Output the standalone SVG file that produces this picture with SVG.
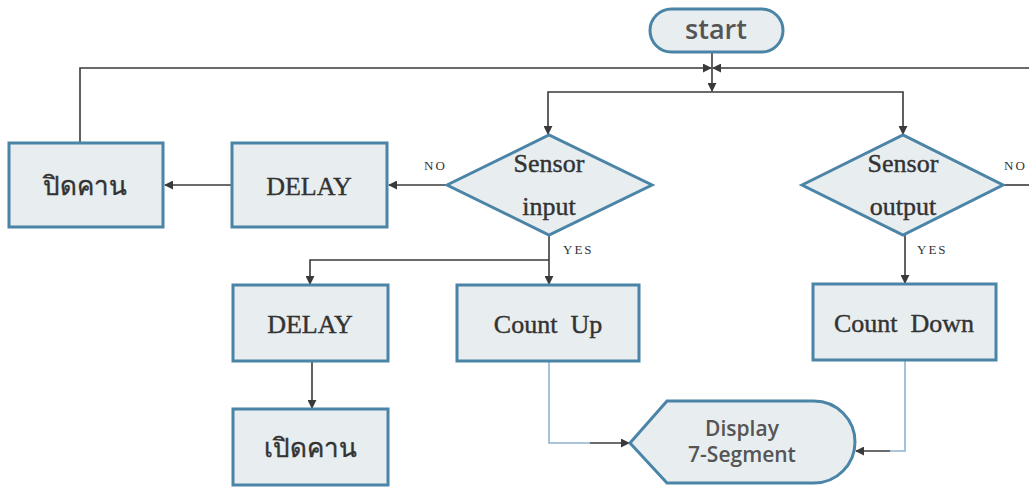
<svg xmlns="http://www.w3.org/2000/svg" width="1029" height="488" viewBox="0 0 1029 488">
<defs>
<marker id="ah" viewBox="0 0 10 10" refX="9" refY="5" markerWidth="9" markerHeight="9" markerUnits="userSpaceOnUse" orient="auto">
<path d="M0,0 L10,5 L0,10 z" fill="#3a3a3a"/>
</marker>
</defs>
<style>
.box{fill:#e8edf0;stroke:#4a84a6;stroke-width:3}
.t{font-family:"Liberation Serif","DejaVu Serif",serif;font-size:26px;fill:#333;stroke:#333;stroke-width:0.4;text-anchor:middle}
.s{font-family:"Open Sans","Noto Sans",sans-serif;fill:#555;font-weight:600;text-anchor:middle}
.lb{font-family:"Liberation Serif","DejaVu Serif",serif;font-size:13px;fill:#333;letter-spacing:2px}
.c{fill:none;stroke:#3a3a3a;stroke-width:1.6}
.cb{fill:none;stroke:#8eb3cf;stroke-width:1.6}
</style>
<rect width="1029" height="488" fill="#fff"/>
<g id="connectors">
<path class="c" d="M712,52 V91" marker-end="url(#ah)"/>
<path class="c" d="M80,143 V68 H711" marker-end="url(#ah)"/>
<path class="c" d="M1029,68 H713" marker-end="url(#ah)"/>
<path class="c" d="M712,92 H548 V134" marker-end="url(#ah)"/>
<path class="c" d="M712,92 H903 V134" marker-end="url(#ah)"/>
<path class="c" d="M447,185 H389" marker-end="url(#ah)"/>
<path class="c" d="M232,185 H165" marker-end="url(#ah)"/>
<path class="c" d="M1003,185 H1029"/>
<path class="c" d="M549,235 V284" marker-end="url(#ah)"/>
<path class="c" d="M549,260 H310 V284" marker-end="url(#ah)"/>
<path class="c" d="M312,362 V408" marker-end="url(#ah)"/>
<path class="c" d="M905,235 V283" marker-end="url(#ah)"/>
<path class="cb" d="M549,362 V443 H590"/>
<path class="c" d="M590,443 H629" marker-end="url(#ah)"/>
<path class="cb" d="M905,361 V451 H890"/>
<path class="c" d="M890,451 H856" marker-end="url(#ah)"/>
<text class="lb" x="424" y="170">NO</text>
<text class="lb" x="1004" y="170">NO</text>
<text class="lb" x="563" y="254">YES</text>
<text class="lb" x="917" y="254">YES</text>
</g>
<g id="start">
<rect x="650" y="9" width="133" height="43" rx="21.5" class="box"/>
<text class="s" x="716" y="39" font-size="27">start</text>
</g>
<g id="sensor-input">
<path class="box" d="M447,185 L549,135 L652,185 L549,235 z"/>
<text class="t" x="549" y="172" font-size="24">Sensor</text>
<text class="t" x="549" y="215" font-size="24">input</text>
</g>
<g id="sensor-output">
<path class="box" d="M802,185 L903,135 L1003,185 L903,235 z"/>
<text class="t" x="903" y="172" font-size="24">Sensor</text>
<text class="t" x="903" y="215" font-size="24">output</text>
</g>
<g id="delay1">
<rect class="box" x="232" y="143" width="155" height="84"/>
<text class="t" x="309" y="195">DELAY</text>
</g>
<g id="close-gate">
<rect class="box" x="9" y="143" width="154" height="84"/>
<text class="t" x="85" y="195">ปิดคาน</text>
</g>
<g id="delay2">
<rect class="box" x="233" y="285" width="155" height="76"/>
<text class="t" x="310" y="333">DELAY</text>
</g>
<g id="open-gate">
<rect class="box" x="233" y="409" width="155" height="76"/>
<text class="t" x="310" y="457">เปิดคาน</text>
</g>
<g id="count-up">
<rect class="box" x="457" y="285" width="182" height="76"/>
<text class="t" x="548" y="333" xml:space="preserve">Count  Up</text>
</g>
<g id="count-down">
<rect class="box" x="813" y="284" width="183" height="76"/>
<text class="t" x="904" y="332" xml:space="preserve">Count  Down</text>
</g>
<g id="display">
<path class="box" d="M630,443 L667,401 H814 A41,41 0 0 1 814,483 H667 z"/>
<text class="s" x="742" y="436" font-size="21">Display</text>
<text class="s" x="742" y="462" font-size="21">7-Segment</text>
</g>
</svg>
